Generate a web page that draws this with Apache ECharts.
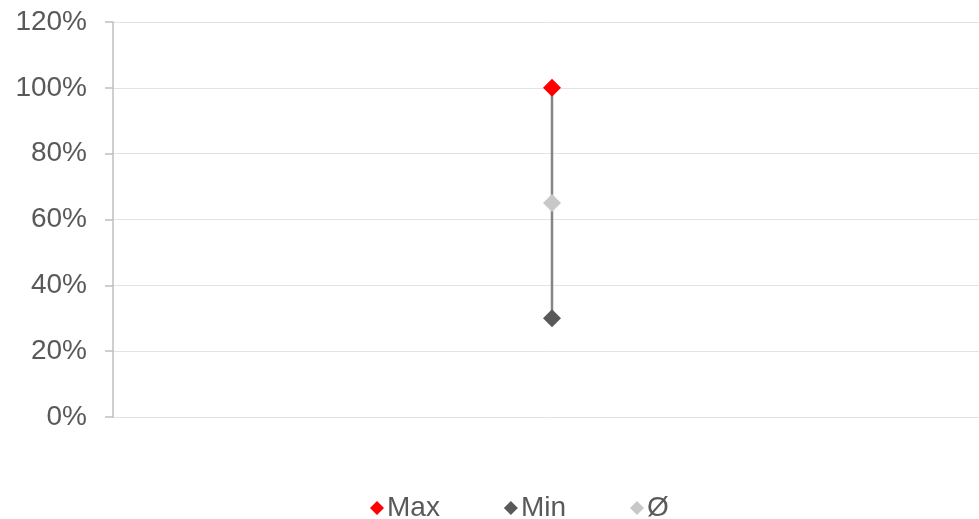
<!DOCTYPE html>
<html>
<head>
<meta charset="utf-8">
<script src="https://cdn.jsdelivr.net/npm/echarts@6/dist/echarts.min.js"></script>
<style>
  html, body { margin: 0; padding: 0; background: #fff; }
  #chart { width: 979px; height: 519px; }
</style>
</head>
<body>
<div id="chart"></div>
<script>
// Data
const categories = ['A'];
const maxValues = [100];
const minValues = [30];
const avgValues = [65];
const yTicks = { min: 0, max: 120, interval: 20 };

const FONT = '"Liberation Sans", Arial, sans-serif';
const TEXT = '#595959';

const chart = echarts.init(document.getElementById('chart'), null, { renderer: 'canvas' });

chart.setOption({
  animation: false,
  backgroundColor: '#ffffff',
  grid: { left: 113, right: -12, top: 22, bottom: 102, containLabel: false, outerBoundsMode: 'none' },
  legend: {
    left: 365,
    top: 489,
    itemGap: 64,
    itemWidth: 14,
    itemHeight: 14,
    icon: 'diamond',
    textStyle: { fontFamily: FONT, fontSize: 28, color: TEXT, padding: [0, 0, 0, -2] },
    data: ['Max', 'Min', 'Ø']
  },
  xAxis: {
    type: 'category',
    data: categories,
    boundaryGap: true,
    axisLine: { show: false },
    axisTick: { show: false },
    axisLabel: { show: false },
    splitLine: { show: false }
  },
  yAxis: {
    type: 'value',
    min: yTicks.min,
    max: yTicks.max,
    interval: yTicks.interval,
    axisLine: { show: true, lineStyle: { color: '#bfbfbf', width: 1.5 } },
    axisTick: { show: true, length: 8, lineStyle: { color: '#bfbfbf', width: 1.5 } },
    axisLabel: {
      formatter: v => v + '%',
      fontFamily: FONT, fontSize: 28, color: TEXT, margin: 26
    },
    splitLine: { show: true, lineStyle: { color: '#e3e3e3', width: 1 } }
  },
  series: [
    {
      // high-low connector between min and max
      type: 'custom',
      name: 'range',
      silent: true,
      z: 1,
      data: categories.map((c, i) => [i, minValues[i], maxValues[i]]),
      encode: { x: 0, y: [1, 2] },
      renderItem: (params, api) => {
        const lo = api.coord([api.value(0), api.value(1)]);
        const hi = api.coord([api.value(0), api.value(2)]);
        return {
          type: 'line',
          shape: { x1: lo[0], y1: lo[1], x2: hi[0], y2: hi[1] },
          style: { stroke: '#858585', lineWidth: 2.5 }
        };
      }
    },
    {
      name: 'Max', type: 'scatter', data: maxValues, z: 3,
      symbol: 'diamond', symbolSize: 18,
      itemStyle: { color: '#ff0000', opacity: 1 }
    },
    {
      name: 'Min', type: 'scatter', data: minValues, z: 3,
      symbol: 'diamond', symbolSize: 18,
      itemStyle: { color: '#595959', opacity: 1 }
    },
    {
      name: 'Ø', type: 'scatter', data: avgValues, z: 3,
      symbol: 'diamond', symbolSize: 18,
      itemStyle: { color: '#c8c8c8', opacity: 1 }
    }
  ]
});
</script>
</body>
</html>
